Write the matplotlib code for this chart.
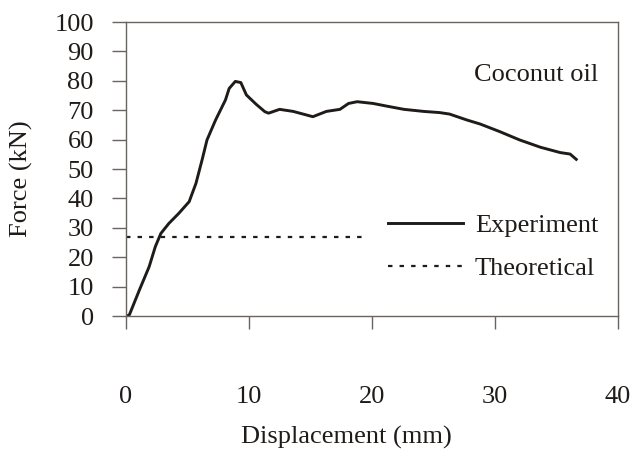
import numpy as np
import matplotlib
matplotlib.use("Agg")
import matplotlib.pyplot as plt

# values
disp_exp = [0.1, 0.3, 1.1, 1.9, 2.4, 2.85, 3.5, 4.3, 5.15, 5.7, 6.2, 6.6, 7.3,
            8.1, 8.4, 8.9, 9.35, 9.8, 10.6, 11.3, 11.6, 12.5, 13.6, 15.2, 16.3,
            17.4, 18.1, 18.8, 20.1, 21.2, 22.6, 24.2, 25.5, 26.3, 27.7, 28.8,
            30.4, 32.0, 33.7, 35.3, 36.1, 36.6]
force_exp = [0.0, 0.5, 8.8, 16.8, 23.6, 28.1, 31.5, 34.9, 38.9, 45.1, 53.1, 59.9,
             66.7, 73.5, 77.4, 79.8, 79.4, 75.2, 72.0, 69.5, 69.0, 70.3, 69.6,
             67.8, 69.6, 70.3, 72.3, 72.9, 72.3, 71.4, 70.3, 69.6, 69.2, 68.7,
             66.7, 65.3, 62.7, 59.9, 57.4, 55.6, 55.1, 53.3]

disp_theo = [0.0, 19.3]
force_theo = [27.0, 27.0]

x_ticks = [0, 10, 20, 30, 40]
y_ticks = [0, 10, 20, 30, 40, 50, 60, 70, 80, 90, 100]

plt.rcParams['font.family'] = ['Liberation Serif', 'DejaVu Serif']
fs = 19
ink = '#1f1b18'
frame = '#6a6460'

fig = plt.figure(figsize=(6.32, 4.49), dpi=100)
ax = fig.add_axes([0.199, 0.296, 0.779, 0.655])

ax.plot(disp_exp, force_exp, color=ink, lw=2.1, label='Experiment')
ax.plot(disp_theo, force_theo, color=ink, lw=1.6, linestyle=(0, (2, 3.2)),
        label='Theoretical')

ax.set_xlim(0, 40)
ax.set_ylim(0, 100)
ax.set_xticks(x_ticks)
ax.set_yticks(y_ticks)

for sp in ax.spines.values():
    sp.set_color(frame)
    sp.set_linewidth(1.0)

ax.tick_params(axis='x', direction='out', length=9, width=1.0, color=frame,
               pad=41, labelsize=fs, labelcolor=ink)
ax.tick_params(axis='y', direction='out', length=10, width=1.0, color=frame,
               pad=13, labelsize=fs, labelcolor=ink)
for lab in ax.get_xticklabels():
    if lab.get_text() == '40':
        lab.set_x(39.5)

ax.set_xlabel('Displacement (mm)', fontsize=fs, color=ink)
ax.set_ylabel('Force (kN)', fontsize=fs, color=ink)
ax.xaxis.set_label_coords(0.449, -0.374)
ax.yaxis.set_label_coords(-0.189, 0.466)

ax.text(0.959, 0.82, 'Coconut oil', transform=ax.transAxes, ha='right',
        va='center', fontsize=fs, color=ink)

ax.legend(loc='center left', bbox_to_anchor=(0.533, 0.236), frameon=False,
          fontsize=fs, handlelength=2.84, handletextpad=0.45, labelspacing=0.75,
          borderpad=0, borderaxespad=0, labelcolor=ink)

fig.savefig('out.png', dpi=100)
